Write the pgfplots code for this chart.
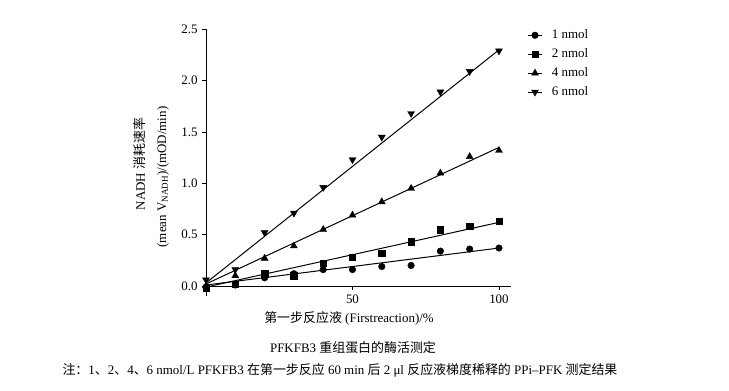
\documentclass[border=0pt]{standalone}
\usepackage{pgfplots}
\pgfplotsset{compat=1.18}
\usepackage{fontspec}
\setmainfont{Liberation Serif}
\newfontfamily\cjk{Noto Sans CJK SC}
\begin{document}
\fontsize{13}{15}\selectfont
\begin{tikzpicture}
\useasboundingbox (0bp,0bp) rectangle (729bp,391bp);
\begin{axis}[
  at={(206bp,94.7bp)}, anchor=south west,
  scale only axis, width=304.7bp, height=267bp,
  xmin=0, xmax=104, ymin=-0.1, ymax=2.5,
  axis x line*=middle, axis y line*=left,
  clip=false,
  xtick={50,100}, ytick={0,0.5,1,1.5,2,2.5},
  hide obscured x ticks=false,
  tick align=outside, major tick length=4bp,
  yticklabel style={/pgf/number format/.cd,fixed,fixed zerofill,precision=1},
  /pgf/number format/assume math mode=true,
  tick label style={font=\fontsize{13}{15}\selectfont},
  axis line style={line width=1pt},
  every tick/.style={black,line width=0.8pt},
  legend style={at={(1.05,1.01)}, anchor=north west, draw=none, fill=none,
    font=\fontsize{13}{15}\selectfont, row sep=4bp, inner sep=1pt,
    /tikz/every odd column/.append style={column sep=7bp}},
  legend cell align=left,
  legend image code/.code={\draw[black,line width=1pt] (0cm,0cm) -- (0.52cm,0cm); \draw[#1] plot coordinates {(0.26cm,0cm)};},
]
% 1 nmol
\addplot[black, only marks, mark=*, mark size=3.3bp] coordinates {
(0,-0.01)(10,0.01)(20,0.08)(30,0.12)(40,0.16)(50,0.16)(60,0.19)(70,0.20)(80,0.34)(90,0.36)(100,0.37)};
\addlegendentry{1 nmol}
% 2 nmol
\addplot[black, only marks, mark=square*, mark size=3.2bp] coordinates {
(0,-0.02)(10,0.02)(20,0.12)(30,0.10)(40,0.22)(50,0.28)(60,0.32)(70,0.43)(80,0.55)(90,0.58)(100,0.63)};
\addlegendentry{2 nmol}
% 4 nmol
\addplot[black, only marks, mark=triangle*, mark size=4bp] coordinates {
(0,0.0)(10,0.10)(20,0.27)(30,0.39)(40,0.55)(50,0.69)(60,0.82)(70,0.95)(80,1.10)(90,1.26)(100,1.32)};
\addlegendentry{4 nmol}
% 6 nmol
\addplot[black, only marks, mark=triangle*, mark size=4bp, mark options={rotate=180}] coordinates {
(0,0.06)(10,0.16)(20,0.52)(30,0.71)(40,0.96)(50,1.23)(60,1.45)(70,1.68)(80,1.89)(90,2.09)(100,2.29)};
\addlegendentry{6 nmol}
% fitted lines
\addplot[black, line width=1pt, forget plot] coordinates {(0,0.01)(100,0.37)};
\addplot[black, line width=1pt, forget plot] coordinates {(0,-0.01)(100,0.62)};
\addplot[black, line width=1pt, forget plot] coordinates {(0,0.02)(100,1.35)};
\addplot[black, line width=1pt, forget plot] coordinates {(0,0.03)(100,2.30)};
\end{axis}
\node[rotate=90] at (140bp,227bp) {NADH {\cjk 消耗速率}};
\node[rotate=90] at (163bp,214bp) {(mean V\textsubscript{NADH})/(mOD/min)};
\node at (349bp,73bp) {{\cjk 第一步反应液} (Firstreaction)/\%};
\node at (353bp,43bp) {PFKFB3 {\cjk 重组蛋白的酶活测定}};
\node[anchor=west] at (58bp,21bp) {{\cjk 注：}1{\cjk 、}2{\cjk 、}4{\cjk 、}6 nmol/L PFKFB3 {\cjk 在第一步反应} 60 min {\cjk 后} 2 μl {\cjk 反应液梯度稀释的} PPi–PFK {\cjk 测定结果}};
\end{tikzpicture}
\end{document}
